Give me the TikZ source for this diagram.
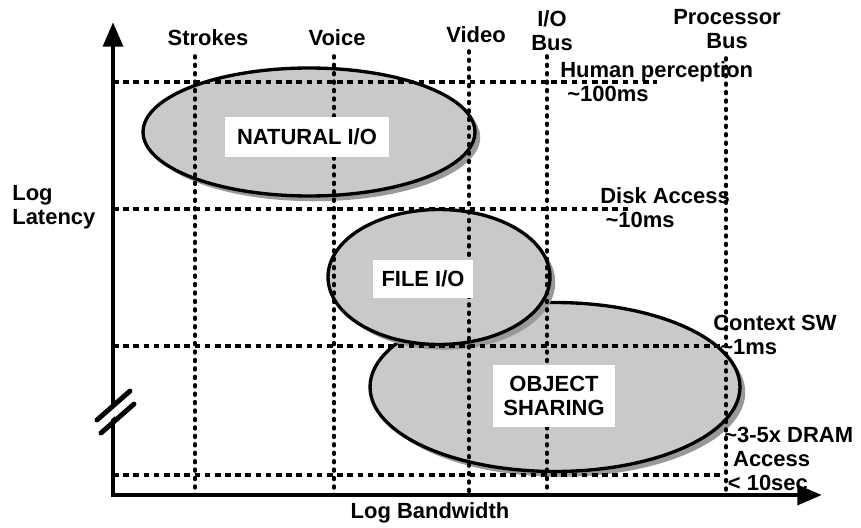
\documentclass[tikz,border=0pt]{standalone}
\usepackage{fontspec}
\setmainfont{Liberation Sans}
\usetikzlibrary{arrows.meta,shapes.geometric,shadows}
\begin{document}
\begin{tikzpicture}[x=0.02cm, y=-0.02cm, font=\bfseries\fontsize{12.5}{13.5}\selectfont]
  \tikzstyle{axis} = [line width=2.8pt, line join=miter, {Triangle[length=14pt,width=11pt]}-{Triangle[length=14pt,width=11pt]}]
  \tikzstyle{vgrid} = [line width=2.1pt, line cap=round, dash pattern=on 1pt off 3.8pt]
  \tikzstyle{hgrid} = [line width=1.9pt, dash pattern=on 3.2pt off 2.6pt]
  \tikzstyle{region} = [ellipse, draw, line width=1.9pt, fill=gray!42, inner sep=0pt, drop shadow={shadow xshift=3pt, shadow yshift=-3pt, fill=gray!80, opacity=1}]
  \tikzstyle{tag} = [rectangle, fill=white, align=center, inner sep=0pt]
  \tikzstyle{head} = [align=center, inner sep=0pt]
  \tikzstyle{note} = [align=left, anchor=west, inner sep=0pt]

  \useasboundingbox (0,0) rectangle (861,527);

  \coordinate (origin) at (113,495);
  \coordinate (ytip) at (113,22);
  \coordinate (xtip) at (822,495);

  \node [region, minimum width=6.64cm, minimum height=2.56cm] (natural) at (309,132) {};
  \node [region, minimum width=7.4cm, minimum height=3.38cm] (object) at (555,387) {};
  \node [region, minimum width=4.44cm, minimum height=2.7cm] (file) at (439,277) {};

  \node [head] (strokes) at (208,38) {Strokes};
  \node [head] (voice) at (337,38) {Voice};
  \node [head] (video) at (476,35) {Video};
  \node [head] (iobus) at (552,31) {I/O\\Bus};
  \node [head] (procbus) at (727,29) {Processor\\Bus};

  \coordinate (strokes top) at (195,56);
  \coordinate (voice top) at (334,56);
  \coordinate (video top) at (469,51);
  \coordinate (iobus top) at (547,56);
  \coordinate (procbus top) at (726,58);
  \draw [vgrid] (strokes top) -- (strokes top |- origin);
  \draw [vgrid] (voice top) -- (voice top |- origin);
  \draw [vgrid] (video top) -- (video top |- origin);
  \draw [vgrid] (iobus top) -- (iobus top |- origin);
  \draw [vgrid] (procbus top) -- (procbus top |- origin);

  \coordinate (human end) at (657,82);
  \coordinate (disk end) at (630,209);
  \coordinate (context end) at (720,346);
  \coordinate (dram end) at (720,475);
  \draw [hgrid] (origin |- human end) -- (human end);
  \draw [hgrid] (origin |- disk end) -- (disk end);
  \draw [hgrid] (origin |- context end) -- (context end);
  \draw [hgrid] (origin |- dram end) -- (dram end);

  \node [tag, minimum width=3.3cm, minimum height=0.8cm] (natural label) at (307,137) {NATURAL I/O};
  \node [tag, minimum width=2cm, minimum height=0.76cm] (file label) at (423,279) {FILE I/O};
  \node [tag, minimum width=2.44cm, minimum height=1.26cm] (object label) at (554,396) {OBJECT\\SHARING};

  \node [note] (human) at (560,82) {Human perception\\\hspace*{4pt}\textasciitilde100ms};
  \node [note] (disk) at (600,208) {Disk Access\\\hspace*{3pt}\textasciitilde10ms};
  \node [note] (context) at (713,335) {Context SW\\\hspace*{4pt}\textasciitilde1ms};
  \node [note, anchor=north west] (dram) at (724,427) {\textasciitilde3-5x DRAM\\\hspace*{5pt}Access\\\hspace*{2pt}< 10sec};

  \draw [axis] (ytip) -- (origin) -- (xtip);

  \coordinate (brk) at (114,412);
  \draw [white, line width=5pt] (brk) ++(-17,14) -- ++(34,-30);
  \draw [line width=2.8pt, line cap=round] (brk) ++(-17,8) -- ++(33,-29);
  \draw [line width=2.8pt, line cap=round] (brk) ++(-13,21) -- ++(33,-29);

  \node [note] (latency) at (12,207) {Log\\Latency};
  \node [head] (bandwidth) at (430,513) {Log Bandwidth};
\end{tikzpicture}
\end{document}
